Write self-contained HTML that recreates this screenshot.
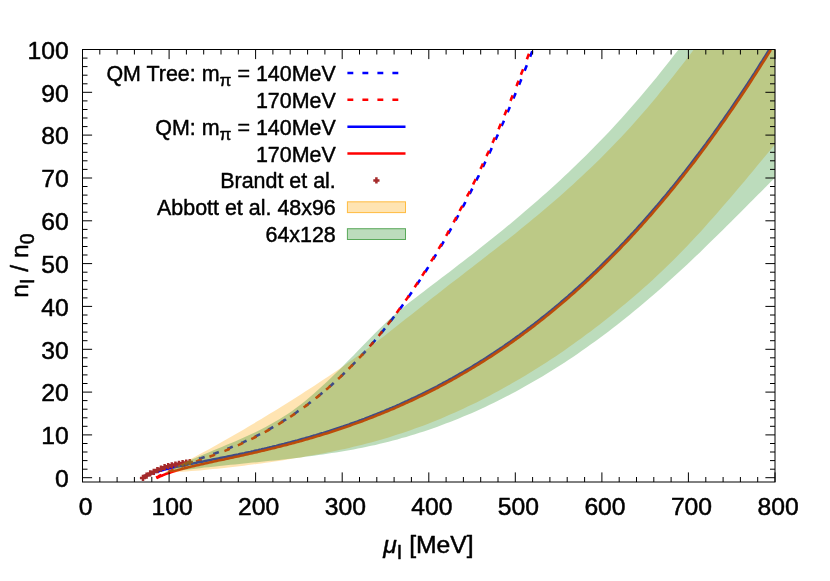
<!DOCTYPE html>
<html><head><meta charset="utf-8"><title>plot</title>
<style>
html,body{margin:0;padding:0;background:#fff;}
body{width:830px;height:581px;overflow:hidden;}
svg{display:block;will-change:transform;font-family:"Liberation Sans",sans-serif;}
</style></head><body>
<svg width="830" height="581" viewBox="0 0 830 581">
<rect width="830" height="581" fill="#fff"/>
<defs><clipPath id="c"><rect x="82.5" y="49.5" width="692.5" height="432.5"/></clipPath></defs>
<g clip-path="url(#c)" fill="none" stroke-width="2.6">
<path d="M143.1,477.7 L143.5,477.5 L144,477.3 L144.4,477 L144.9,476.8 L145.3,476.6 L145.7,476.4 L146.2,476.2 L146.6,475.9 L147.1,475.7 L147.5,475.5 L147.9,475.3 L148.4,475.1 L148.8,475 L149.3,474.8 L149.7,474.6 L150.1,474.4 L150.6,474.2 L151,474 L151.5,473.8 L151.9,473.7 L152.3,473.5 L152.8,473.3 L153.2,473.1 L153.7,473 L154.1,472.8 L154.5,472.6 L155,472.5 L155.4,472.3 L155.9,472.2 L156.3,472 L156.7,471.8 L157.2,471.7 L157.6,471.5 L158.1,471.4 L158.5,471.2 L158.9,471.1 L159.4,470.9 L159.8,470.8 L160.3,470.6 L160.7,470.5 L161.1,470.3 L161.6,470.2 L162,470 L162.5,469.9 L162.9,469.8 L163.3,469.6 L163.8,469.5 L164.2,469.3 L164.7,469.2 L165.1,469 L165.5,468.9 L166,468.8 L166.4,468.6 L166.9,468.5 L167.3,468.4 L167.7,468.2 L168.2,468.1 L168.6,468 L169.1,467.8 L170.6,467.4 L172.1,466.9 L173.6,466.4 L175.1,466 L176.7,465.5 L178.2,465.1 L179.7,464.6 L181.2,464.2 L182.7,463.7 L184.2,463.3 L185.8,462.8 L187.3,462.4 L188.8,461.9 L190.3,461.5 L191.8,461 L193.4,460.5 L194.9,460.1 L196.4,459.6 L197.9,459.1 L199.4,458.6 L201,458.2 L202.5,457.7 L204,457.2 L205.5,456.7 L207,456.2 L208.5,455.7 L210.1,455.1 L211.6,454.6 L213.1,454.1 L214.6,453.6 L216.1,453 L217.7,452.5 L219.2,451.9 L220.7,451.4 L222.2,450.8 L223.7,450.2 L225.3,449.6 L226.8,449.1 L228.3,448.5 L229.8,447.9 L231.3,447.2 L232.8,446.6 L234.4,446 L235.9,445.4 L237.4,444.7 L238.9,444.1 L240.4,443.4 L242,442.7 L243.5,442.1 L245,441.4 L246.5,440.7 L248,440 L249.6,439.3 L251.1,438.6 L252.6,437.8 L254.1,437.1 L255.6,436.4 L257.1,435.6 L258.7,434.8 L260.2,434.1 L261.7,433.3 L263.2,432.5 L264.7,431.7 L266.3,430.8 L267.8,430 L269.3,429.2 L270.8,428.3 L272.3,427.5 L273.8,426.6 L275.4,425.7 L276.9,424.8 L278.4,423.9 L279.9,423 L281.4,422.1 L283,421.2 L284.5,420.2 L286,419.3 L287.5,418.3 L289,417.3 L290.6,416.3 L292.1,415.3 L293.6,414.3 L295.1,413.3 L296.6,412.3 L298.1,411.2 L299.7,410.2 L301.2,409.1 L302.7,408 L304.2,406.9 L305.7,405.8 L307.3,404.7 L308.8,403.5 L310.3,402.4 L311.8,401.2 L313.3,400 L314.9,398.9 L316.4,397.7 L317.9,396.4 L319.4,395.2 L320.9,394 L322.4,392.7 L324,391.5 L325.5,390.2 L327,388.9 L328.5,387.6 L330,386.3 L331.6,384.9 L333.1,383.6 L334.6,382.2 L336.1,380.8 L337.6,379.4 L339.2,378 L340.7,376.6 L342.2,375.2 L343.7,373.7 L345.2,372.3 L346.7,370.8 L348.3,369.3 L349.8,367.8 L351.3,366.2 L352.8,364.7 L354.3,363.1 L355.9,361.6 L357.4,360 L358.9,358.4 L360.4,356.8 L361.9,355.1 L363.4,353.5 L365,351.8 L366.5,350.1 L368,348.4 L369.5,346.7 L371,345 L372.6,343.2 L374.1,341.5 L375.6,339.7 L377.1,337.9 L378.6,336.1 L380.2,334.3 L381.7,332.4 L383.2,330.6 L384.7,328.7 L386.2,326.8 L387.7,324.9 L389.3,322.9 L390.8,321 L392.3,319 L393.8,317 L395.3,315 L396.9,313 L398.4,311 L399.9,308.9 L401.4,306.9 L402.9,304.8 L404.5,302.7 L406,300.5 L407.5,298.4 L409,296.2 L410.5,294 L412,291.8 L413.6,289.6 L415.1,287.4 L416.6,285.1 L418.1,282.8 L419.6,280.6 L421.2,278.2 L422.7,275.9 L424.2,273.6 L425.7,271.2 L427.2,268.8 L428.8,266.4 L430.3,263.9 L431.8,261.5 L433.3,259 L434.8,256.5 L436.3,254 L437.9,251.5 L439.4,248.9 L440.9,246.4 L442.4,243.8 L443.9,241.2 L445.5,238.5 L447,235.9 L448.5,233.2 L450,230.5 L451.5,227.8 L453,225.1 L454.6,222.3 L456.1,219.5 L457.6,216.7 L459.1,213.9 L460.6,211.1 L462.2,208.2 L463.7,205.3 L465.2,202.4 L466.7,199.5 L468.2,196.6 L469.8,193.6 L471.3,190.6 L472.8,187.6 L474.3,184.5 L475.8,181.5 L477.3,178.4 L478.9,175.3 L480.4,172.2 L481.9,169 L483.4,165.9 L484.9,162.7 L486.5,159.4 L488,156.2 L489.5,152.9 L491,149.7 L492.5,146.3 L494.1,143 L495.6,139.7 L497.1,136.3 L498.6,132.9 L500.1,129.4 L501.6,126 L503.2,122.5 L504.7,119 L506.2,115.5 L507.7,112 L509.2,108.4 L510.8,104.8 L512.3,101.2 L513.8,97.5 L515.3,93.9 L516.8,90.2 L518.3,86.5 L519.9,82.7 L521.4,79 L522.9,75.2 L524.4,71.4 L525.9,67.5 L527.5,63.6 L529,59.8 L530.5,55.8 L532,51.9 L532.9,49.5" stroke="#0000ff" stroke-dasharray="5.9 9.1" stroke-dashoffset="0.7"/>
<path d="M156.1,477.7 L157.1,477.1 L158.1,476.6 L159.2,476 L160.2,475.5 L161.3,475 M156.1,477.7 L157.1,477.1 L158.1,476.6 L159.2,476 L160.2,475.5 L161.3,475 M168.2,471.8 L169.3,471.4 L170.4,470.9 L171.5,470.5 L172.6,470 L173.7,469.6 M181.3,466.8 L182.4,466.4 L183.5,466 L184.6,465.6 L185.7,465.2 L186.8,464.8 M196.1,461.5 L197.2,461.1 L198.3,460.7 L199.4,460.3 L200.6,459.9 L201.7,459.5 M209.5,456.7 L210.6,456.3 L211.7,455.9 L212.8,455.5 L213.9,455.1 L215,454.6 M224.4,451 L225.5,450.6 L226.6,450.1 L227.7,449.7 L228.8,449.2 L229.9,448.8 M237.8,445.3 L238.9,444.9 L240,444.4 L241.1,443.9 L242.1,443.4 L243.2,442.9 M251.3,439.1 L252.3,438.6 L253.4,438.1 L254.5,437.5 L255.5,437 L256.6,436.5 M264.7,432.2 L265.8,431.6 L266.8,431 L267.8,430.5 L268.9,429.9 L269.9,429.3 M278.2,424.5 L279.2,423.9 L280.2,423.2 L281.2,422.6 L282.2,422 L283.2,421.4 M290.2,416.9 L291.2,416.2 L292.1,415.6 L293.1,414.9 L294.1,414.3 L295.1,413.6 M303.7,407.5 L304.6,406.8 L305.6,406.1 L306.5,405.4 L307.5,404.7 L308.4,404 M315.7,398.4 L316.6,397.6 L317.5,396.9 L318.4,396.2 L319.3,395.4 L320.2,394.7 M326.1,389.7 L327,388.9 L327.9,388.2 L328.8,387.4 L329.7,386.6 L330.6,385.8 M338.1,379 L339,378.2 L339.9,377.4 L340.7,376.6 L341.6,375.7 L342.4,374.9 M348.6,368.9 L349.5,368 L350.3,367.2 L351.1,366.4 L352,365.5 L352.8,364.7 M359.1,358 L359.9,357.2 L360.8,356.3 L361.6,355.4 L362.4,354.6 L363.1,353.7 M369.6,346.4 L370.4,345.6 L371.2,344.7 L372,343.8 L372.7,342.9 L373.5,342 M378.6,335.9 L379.4,335 L380.1,334.1 L380.9,333.1 L381.6,332.2 L382.4,331.3 M387.6,324.7 L388.4,323.8 L389.1,322.8 L389.8,321.9 L390.5,321 L391.3,320 M396.6,312.9 L397.3,311.9 L398,311 L398.7,310 L399.4,309.1 L400.1,308.1 M405.6,300.4 L406.3,299.4 L407,298.5 L407.7,297.5 L408.3,296.5 L409,295.6 M414.6,287.3 L415.3,286.3 L415.9,285.3 L416.6,284.3 L417.2,283.3 L417.9,282.4 M422.1,275.8 L422.8,274.8 L423.4,273.8 L424,272.8 L424.7,271.8 L425.3,270.8 M431.1,261.4 L431.7,260.4 L432.3,259.4 L433,258.4 L433.6,257.4 L434.2,256.4 M438.6,248.9 L439.2,247.9 L439.8,246.8 L440.4,245.8 L441,244.8 L441.6,243.8 M446.1,235.8 L446.7,234.8 L447.3,233.8 L447.8,232.7 L448.4,231.7 L449,230.7 M453.6,222.3 L454.2,221.2 L454.7,220.2 L455.3,219.1 L455.8,218.1 L456.4,217.1 M459.6,211 L460.1,210 L460.7,208.9 L461.2,207.9 L461.8,206.8 L462.3,205.8 M467.1,196.5 L467.6,195.4 L468.1,194.4 L468.7,193.3 L469.2,192.3 L469.7,191.2 M473.1,184.5 L473.6,183.4 L474.1,182.3 L474.6,181.3 L475.1,180.2 L475.6,179.1 M480.5,168.9 L481,167.8 L481.5,166.8 L482,165.7 L482.5,164.6 L483,163.6 M486.5,156.1 L487,155 L487.5,153.9 L488,152.8 L488.5,151.8 L489,150.7 M492.5,142.9 L493,141.8 L493.5,140.7 L493.9,139.6 L494.4,138.5 L494.9,137.5 M498.5,129.3 L499,128.2 L499.4,127.1 L499.9,126 L500.4,124.9 L500.8,123.8 M504.5,115.3 L504.9,114.2 L505.4,113.1 L505.8,112 L506.3,110.9 L506.7,109.8 M510.4,100.9 L510.9,99.8 L511.3,98.7 L511.8,97.6 L512.2,96.5 L512.7,95.4 M516.4,86.1 L516.9,85 L517.3,83.9 L517.7,82.8 L518.2,81.8 L518.6,80.7 M520.9,74.8 L521.3,73.7 L521.8,72.6 L522.2,71.5 L522.6,70.4 L523.1,69.3 M526.9,59.3 L527.3,58.2 L527.7,57.1 L528.1,56 L528.6,54.9 L529,53.8" stroke="#ff0000"/>
<path d="M143.1,477.7 L143.5,477.5 L144,477.3 L144.4,477.1 L144.9,476.9 L145.3,476.7 L145.7,476.5 L146.2,476.3 L146.6,476.1 L147.1,475.9 L147.5,475.7 L147.9,475.5 L148.4,475.3 L148.8,475.2 L149.3,475 L149.7,474.8 L150.1,474.7 L150.6,474.5 L151,474.3 L151.5,474.2 L151.9,474 L152.3,473.9 L152.8,473.7 L153.2,473.6 L153.7,473.4 L154.1,473.3 L154.5,473.1 L155,473 L155.4,472.8 L155.9,472.7 L156.3,472.6 L156.7,472.4 L157.2,472.3 L157.6,472.2 L158.1,472 L158.5,471.9 L158.9,471.8 L159.4,471.6 L159.8,471.5 L160.3,471.4 L160.7,471.3 L161.1,471.2 L161.6,471 L162,470.9 L162.5,470.8 L162.9,470.7 L163.3,470.6 L163.8,470.5 L164.2,470.3 L164.7,470.2 L165.1,470.1 L165.5,470 L166,469.9 L166.4,469.8 L166.9,469.7 L167.3,469.6 L167.7,469.5 L168.2,469.4 L168.6,469.3 L169.1,469.1 L170.6,468.8 L172.1,468.4 L173.6,468.1 L175.1,467.8 L176.7,467.4 L178.2,467.1 L179.7,466.8 L181.2,466.5 L182.7,466.2 L184.2,465.9 L185.8,465.6 L187.3,465.3 L188.8,464.9 L190.3,464.6 L191.8,464.4 L193.4,464.1 L194.9,463.8 L196.4,463.5 L197.9,463.2 L199.4,462.9 L201,462.6 L202.5,462.3 L204,462 L205.5,461.7 L207,461.4 L208.5,461.1 L210.1,460.8 L211.6,460.5 L213.1,460.2 L214.6,459.9 L216.1,459.6 L217.7,459.3 L219.2,459 L220.7,458.7 L222.2,458.4 L223.7,458.1 L225.3,457.8 L226.8,457.5 L228.3,457.2 L229.8,456.9 L231.3,456.6 L232.8,456.3 L234.4,456 L235.9,455.7 L237.4,455.4 L238.9,455.1 L240.4,454.7 L242,454.4 L243.5,454.1 L245,453.8 L246.5,453.4 L248,453.1 L249.6,452.8 L251.1,452.5 L252.6,452.1 L254.1,451.8 L255.6,451.4 L257.1,451.1 L258.7,450.8 L260.2,450.4 L261.7,450.1 L263.2,449.7 L264.7,449.4 L266.3,449 L267.8,448.7 L269.3,448.3 L270.8,447.9 L272.3,447.6 L273.8,447.2 L275.4,446.8 L276.9,446.5 L278.4,446.1 L279.9,445.7 L281.4,445.3 L283,444.9 L284.5,444.6 L286,444.2 L287.5,443.8 L289,443.4 L290.6,443 L292.1,442.6 L293.6,442.2 L295.1,441.8 L296.6,441.4 L298.1,441 L299.7,440.5 L301.2,440.1 L302.7,439.7 L304.2,439.3 L305.7,438.9 L307.3,438.4 L308.8,438 L310.3,437.6 L311.8,437.1 L313.3,436.7 L314.9,436.2 L316.4,435.8 L317.9,435.3 L319.4,434.9 L320.9,434.4 L322.4,433.9 L324,433.5 L325.5,433 L327,432.5 L328.5,432 L330,431.6 L331.6,431.1 L333.1,430.6 L334.6,430.1 L336.1,429.6 L337.6,429.1 L339.2,428.6 L340.7,428.1 L342.2,427.6 L343.7,427.1 L345.2,426.5 L346.7,426 L348.3,425.5 L349.8,425 L351.3,424.4 L352.8,423.9 L354.3,423.4 L355.9,422.8 L357.4,422.3 L358.9,421.7 L360.4,421.1 L361.9,420.6 L363.4,420 L365,419.5 L366.5,418.9 L368,418.3 L369.5,417.7 L371,417.1 L372.6,416.5 L374.1,415.9 L375.6,415.3 L377.1,414.7 L378.6,414.1 L380.2,413.5 L381.7,412.9 L383.2,412.3 L384.7,411.7 L386.2,411 L387.7,410.4 L389.3,409.8 L390.8,409.1 L392.3,408.5 L393.8,407.8 L395.3,407.2 L396.9,406.5 L398.4,405.8 L399.9,405.2 L401.4,404.5 L402.9,403.8 L404.5,403.1 L406,402.4 L407.5,401.8 L409,401.1 L410.5,400.4 L412,399.6 L413.6,398.9 L415.1,398.2 L416.6,397.5 L418.1,396.8 L419.6,396 L421.2,395.3 L422.7,394.6 L424.2,393.8 L425.7,393.1 L427.2,392.3 L428.8,391.5 L430.3,390.8 L431.8,390 L433.3,389.2 L434.8,388.4 L436.3,387.7 L437.9,386.9 L439.4,386.1 L440.9,385.3 L442.4,384.5 L443.9,383.6 L445.5,382.8 L447,382 L448.5,381.2 L450,380.3 L451.5,379.5 L453,378.7 L454.6,377.8 L456.1,376.9 L457.6,376.1 L459.1,375.2 L460.6,374.3 L462.2,373.5 L463.7,372.6 L465.2,371.7 L466.7,370.8 L468.2,369.9 L469.8,369 L471.3,368.1 L472.8,367.2 L474.3,366.2 L475.8,365.3 L477.3,364.4 L478.9,363.4 L480.4,362.5 L481.9,361.5 L483.4,360.6 L484.9,359.6 L486.5,358.7 L488,357.7 L489.5,356.7 L491,355.7 L492.5,354.7 L494.1,353.7 L495.6,352.7 L497.1,351.7 L498.6,350.7 L500.1,349.7 L501.6,348.6 L503.2,347.6 L504.7,346.6 L506.2,345.5 L507.7,344.5 L509.2,343.4 L510.8,342.3 L512.3,341.3 L513.8,340.2 L515.3,339.1 L516.8,338 L518.3,336.9 L519.9,335.8 L521.4,334.7 L522.9,333.6 L524.4,332.4 L525.9,331.3 L527.5,330.2 L529,329 L530.5,327.9 L532,326.7 L533.5,325.6 L535.1,324.4 L536.6,323.2 L538.1,322 L539.6,320.8 L541.1,319.7 L542.6,318.4 L544.2,317.2 L545.7,316 L547.2,314.8 L548.7,313.6 L550.2,312.3 L551.8,311.1 L553.3,309.8 L554.8,308.6 L556.3,307.3 L557.8,306 L559.4,304.8 L560.9,303.5 L562.4,302.2 L563.9,300.9 L565.4,299.6 L566.9,298.3 L568.5,297 L570,295.6 L571.5,294.3 L573,293 L574.5,291.6 L576.1,290.2 L577.6,288.9 L579.1,287.5 L580.6,286.1 L582.1,284.8 L583.7,283.4 L585.2,282 L586.7,280.6 L588.2,279.1 L589.7,277.7 L591.2,276.3 L592.8,274.9 L594.3,273.4 L595.8,272 L597.3,270.5 L598.8,269 L600.4,267.6 L601.9,266.1 L603.4,264.6 L604.9,263.1 L606.4,261.6 L607.9,260.1 L609.5,258.6 L611,257 L612.5,255.5 L614,253.9 L615.5,252.4 L617.1,250.8 L618.6,249.3 L620.1,247.7 L621.6,246.1 L623.1,244.5 L624.7,242.9 L626.2,241.3 L627.7,239.7 L629.2,238.1 L630.7,236.5 L632.2,234.8 L633.8,233.2 L635.3,231.5 L636.8,229.9 L638.3,228.2 L639.8,226.5 L641.4,224.8 L642.9,223.1 L644.4,221.4 L645.9,219.7 L647.4,218 L649,216.3 L650.5,214.5 L652,212.8 L653.5,211 L655,209.3 L656.5,207.5 L658.1,205.7 L659.6,203.9 L661.1,202.1 L662.6,200.3 L664.1,198.5 L665.7,196.7 L667.2,194.9 L668.7,193 L670.2,191.2 L671.7,189.3 L673.3,187.5 L674.8,185.6 L676.3,183.7 L677.8,181.8 L679.3,179.9 L680.8,178 L682.4,176.1 L683.9,174.2 L685.4,172.3 L686.9,170.3 L688.4,168.4 L690,166.4 L691.5,164.5 L693,162.5 L694.5,160.5 L696,158.5 L697.5,156.5 L699.1,154.5 L700.6,152.5 L702.1,150.4 L703.6,148.4 L705.1,146.3 L706.7,144.3 L708.2,142.2 L709.7,140.1 L711.2,138.1 L712.7,136 L714.3,133.9 L715.8,131.7 L717.3,129.6 L718.8,127.5 L720.3,125.3 L721.8,123.2 L723.4,121 L724.9,118.9 L726.4,116.7 L727.9,114.5 L729.4,112.3 L731,110.1 L732.5,107.9 L734,105.7 L735.5,103.4 L737,101.2 L738.6,98.9 L740.1,96.7 L741.6,94.4 L743.1,92.1 L744.6,89.8 L746.1,87.5 L747.7,85.2 L749.2,82.9 L750.7,80.5 L752.2,78.2 L753.7,75.8 L755.3,73.5 L756.8,71.1 L758.3,68.7 L759.8,66.3 L761.3,63.9 L762.9,61.5 L764.4,59.1 L765.9,56.7 L767.4,54.2 L768.9,51.8 L770.3,49.5" stroke="#0000ff" transform="translate(-0.6,-0.6)"/>
<path d="M156.1,477.7 L156.5,477.5 L157,477.3 L157.4,477.1 L157.8,476.8 L158.3,476.6 L158.7,476.4 L159.2,476.2 L159.6,476 L160,475.8 L160.5,475.6 L160.9,475.4 L161.4,475.3 L161.8,475.1 L162.2,474.9 L162.7,474.7 L163.1,474.5 L163.6,474.4 L164,474.2 L164.4,474 L164.9,473.8 L165.3,473.7 L165.8,473.5 L166.2,473.3 L166.6,473.2 L167.1,473 L167.5,472.9 L168,472.7 L168.4,472.6 L168.8,472.4 L169.3,472.3 L169.7,472.1 L170.2,472 L170.6,471.8 L171,471.7 L171.5,471.5 L171.9,471.4 L172.4,471.2 L172.8,471.1 L173.2,471 L173.7,470.8 L174.1,470.7 L174.6,470.6 L175,470.4 L175.4,470.3 L175.9,470.2 L176.3,470 L176.8,469.9 L177.2,469.8 L177.6,469.7 L178.1,469.5 L178.5,469.4 L179,469.3 L179.4,469.2 L179.8,469 L180.3,468.9 L180.7,468.8 L181.2,468.7 L181.6,468.6 L182,468.4 L183.5,468.1 L185,467.7 L186.5,467.3 L188,466.9 L189.5,466.6 L191,466.2 L192.4,465.8 L193.9,465.5 L195.4,465.1 L196.9,464.8 L198.4,464.5 L199.9,464.1 L201.4,463.8 L202.9,463.5 L204.3,463.1 L205.8,462.8 L207.3,462.5 L208.8,462.2 L210.3,461.8 L211.8,461.5 L213.3,461.2 L214.7,460.9 L216.2,460.6 L217.7,460.2 L219.2,459.9 L220.7,459.6 L222.2,459.3 L223.7,459 L225.1,458.6 L226.6,458.3 L228.1,458 L229.6,457.7 L231.1,457.4 L232.6,457.1 L234.1,456.7 L235.5,456.4 L237,456.1 L238.5,455.8 L240,455.4 L241.5,455.1 L243,454.8 L244.5,454.4 L245.9,454.1 L247.4,453.8 L248.9,453.4 L250.4,453.1 L251.9,452.8 L253.4,452.4 L254.9,452.1 L256.4,451.8 L257.8,451.4 L259.3,451.1 L260.8,450.7 L262.3,450.4 L263.8,450 L265.3,449.7 L266.8,449.3 L268.2,448.9 L269.7,448.6 L271.2,448.2 L272.7,447.9 L274.2,447.5 L275.7,447.1 L277.2,446.7 L278.6,446.4 L280.1,446 L281.6,445.6 L283.1,445.2 L284.6,444.9 L286.1,444.5 L287.6,444.1 L289,443.7 L290.5,443.3 L292,442.9 L293.5,442.5 L295,442.1 L296.5,441.7 L298,441.3 L299.4,440.9 L300.9,440.5 L302.4,440 L303.9,439.6 L305.4,439.2 L306.9,438.8 L308.4,438.3 L309.9,437.9 L311.3,437.5 L312.8,437 L314.3,436.6 L315.8,436.2 L317.3,435.7 L318.8,435.3 L320.3,434.8 L321.7,434.4 L323.2,433.9 L324.7,433.4 L326.2,433 L327.7,432.5 L329.2,432 L330.7,431.6 L332.1,431.1 L333.6,430.6 L335.1,430.1 L336.6,429.6 L338.1,429.1 L339.6,428.6 L341.1,428.1 L342.5,427.6 L344,427.1 L345.5,426.6 L347,426.1 L348.5,425.6 L350,425.1 L351.5,424.5 L352.9,424 L354.4,423.5 L355.9,422.9 L357.4,422.4 L358.9,421.9 L360.4,421.3 L361.9,420.8 L363.4,420.2 L364.8,419.6 L366.3,419.1 L367.8,418.5 L369.3,417.9 L370.8,417.4 L372.3,416.8 L373.8,416.2 L375.2,415.6 L376.7,415 L378.2,414.4 L379.7,413.8 L381.2,413.2 L382.7,412.6 L384.2,412 L385.6,411.4 L387.1,410.8 L388.6,410.2 L390.1,409.5 L391.6,408.9 L393.1,408.3 L394.6,407.6 L396,407 L397.5,406.3 L399,405.7 L400.5,405 L402,404.4 L403.5,403.7 L405,403 L406.4,402.3 L407.9,401.7 L409.4,401 L410.9,400.3 L412.4,399.6 L413.9,398.9 L415.4,398.2 L416.9,397.5 L418.3,396.8 L419.8,396 L421.3,395.3 L422.8,394.6 L424.3,393.9 L425.8,393.1 L427.3,392.4 L428.7,391.6 L430.2,390.9 L431.7,390.1 L433.2,389.4 L434.7,388.6 L436.2,387.8 L437.7,387.1 L439.1,386.3 L440.6,385.5 L442.1,384.7 L443.6,383.9 L445.1,383.1 L446.6,382.3 L448.1,381.5 L449.5,380.7 L451,379.9 L452.5,379 L454,378.2 L455.5,377.4 L457,376.5 L458.5,375.7 L459.9,374.8 L461.4,374 L462.9,373.1 L464.4,372.2 L465.9,371.4 L467.4,370.5 L468.9,369.6 L470.3,368.7 L471.8,367.8 L473.3,366.9 L474.8,366 L476.3,365.1 L477.8,364.2 L479.3,363.3 L480.8,362.3 L482.2,361.4 L483.7,360.5 L485.2,359.5 L486.7,358.6 L488.2,357.6 L489.7,356.7 L491.2,355.7 L492.6,354.7 L494.1,353.7 L495.6,352.8 L497.1,351.8 L498.6,350.8 L500.1,349.8 L501.6,348.8 L503,347.7 L504.5,346.7 L506,345.7 L507.5,344.7 L509,343.6 L510.5,342.6 L512,341.5 L513.4,340.5 L514.9,339.4 L516.4,338.4 L517.9,337.3 L519.4,336.2 L520.9,335.1 L522.4,334 L523.8,332.9 L525.3,331.8 L526.8,330.7 L528.3,329.6 L529.8,328.5 L531.3,327.3 L532.8,326.2 L534.3,325.1 L535.7,323.9 L537.2,322.8 L538.7,321.6 L540.2,320.4 L541.7,319.3 L543.2,318.1 L544.7,316.9 L546.1,315.7 L547.6,314.5 L549.1,313.3 L550.6,312.1 L552.1,310.9 L553.6,309.7 L555.1,308.4 L556.5,307.2 L558,305.9 L559.5,304.7 L561,303.4 L562.5,302.2 L564,300.9 L565.5,299.6 L566.9,298.3 L568.4,297 L569.9,295.7 L571.4,294.4 L572.9,293.1 L574.4,291.8 L575.9,290.5 L577.3,289.1 L578.8,287.8 L580.3,286.5 L581.8,285.1 L583.3,283.7 L584.8,282.4 L586.3,281 L587.8,279.6 L589.2,278.2 L590.7,276.8 L592.2,275.4 L593.7,274 L595.2,272.6 L596.7,271.2 L598.2,269.7 L599.6,268.3 L601.1,266.9 L602.6,265.4 L604.1,263.9 L605.6,262.5 L607.1,261 L608.6,259.5 L610,258 L611.5,256.5 L613,255 L614.5,253.5 L616,252 L617.5,250.5 L619,248.9 L620.4,247.4 L621.9,245.8 L623.4,244.3 L624.9,242.7 L626.4,241.1 L627.9,239.6 L629.4,238 L630.8,236.4 L632.3,234.8 L633.8,233.2 L635.3,231.5 L636.8,229.9 L638.3,228.3 L639.8,226.6 L641.3,225 L642.7,223.3 L644.2,221.7 L645.7,220 L647.2,218.3 L648.7,216.6 L650.2,214.9 L651.7,213.2 L653.1,211.5 L654.6,209.8 L656.1,208.1 L657.6,206.3 L659.1,204.6 L660.6,202.8 L662.1,201.1 L663.5,199.3 L665,197.5 L666.5,195.7 L668,193.9 L669.5,192.1 L671,190.3 L672.5,188.5 L673.9,186.7 L675.4,184.8 L676.9,183 L678.4,181.1 L679.9,179.3 L681.4,177.4 L682.9,175.5 L684.3,173.6 L685.8,171.8 L687.3,169.9 L688.8,167.9 L690.3,166 L691.8,164.1 L693.3,162.2 L694.8,160.2 L696.2,158.3 L697.7,156.3 L699.2,154.3 L700.7,152.3 L702.2,150.4 L703.7,148.4 L705.2,146.4 L706.6,144.3 L708.1,142.3 L709.6,140.3 L711.1,138.2 L712.6,136.2 L714.1,134.1 L715.6,132.1 L717,130 L718.5,127.9 L720,125.8 L721.5,123.7 L723,121.6 L724.5,119.5 L726,117.4 L727.4,115.2 L728.9,113.1 L730.4,110.9 L731.9,108.8 L733.4,106.6 L734.9,104.4 L736.4,102.2 L737.8,100 L739.3,97.8 L740.8,95.6 L742.3,93.3 L743.8,91.1 L745.3,88.9 L746.8,86.6 L748.3,84.3 L749.7,82.1 L751.2,79.8 L752.7,77.5 L754.2,75.2 L755.7,72.9 L757.2,70.5 L758.7,68.2 L760.1,65.9 L761.6,63.5 L763.1,61.1 L764.6,58.8 L766.1,56.4 L767.6,54 L769.1,51.6 L770.4,49.5" stroke="#ff0000" transform="translate(0.4,0.4)"/>
<path d="M139.9,477.9 h6.2 M143,474.8 v6.2 M143.5,475.6 h6.2 M146.6,472.5 v6.2 M147.1,473.4 h6.2 M150.2,470.3 v6.2 M150.7,471.8 h6.2 M153.8,468.7 v6.2 M154.3,470.1 h6.2 M157.4,467 v6.2 M157.9,468.7 h6.2 M161,465.6 v6.2 M161.5,467.2 h6.2 M164.6,464.1 v6.2 M165.1,466.2 h6.2 M168.2,463.1 v6.2 M168.7,465.3 h6.2 M171.8,462.2 v6.2 M172.3,464.5 h6.2 M175.4,461.4 v6.2 M175.9,463.8 h6.2 M179,460.7 v6.2 M179.5,463.2 h6.2 M182.6,460.1 v6.2 M183.1,462.5 h6.2 M186.2,459.4 v6.2 M186.7,462 h6.2 M189.8,458.9 v6.2" stroke="#a52a2a" stroke-width="2.5"/>
<path d="M164.7,472.4 L169.1,470.2 L173.5,468 L177.9,465.7 L182.3,463.5 L186.7,461.2 L191.1,458.8 L195.5,456.5 L199.9,454.1 L204.2,451.8 L208.6,449.4 L213,446.9 L217.4,444.5 L221.8,442 L226.2,439.5 L230.6,437 L235,434.5 L239.4,431.9 L243.8,429.4 L248.2,426.8 L252.5,424.2 L256.9,421.6 L261.3,418.9 L265.7,416.3 L270.1,413.6 L274.5,410.9 L278.9,408.2 L283.3,405.4 L287.7,402.7 L292.1,399.9 L296.4,397.2 L300.8,394.4 L305.2,391.6 L309.6,388.7 L314,385.9 L318.4,383 L322.8,380.1 L327.2,377.2 L331.6,374.2 L336,371.3 L340.4,368.2 L344.7,365.2 L349.1,362.1 L353.5,359 L357.9,355.8 L362.3,352.6 L366.7,349.3 L371.1,346 L375.5,342.7 L379.9,339.3 L384.3,335.9 L388.6,332.5 L393,329.1 L397.4,325.6 L401.8,322.1 L406.2,318.6 L410.6,315.2 L415,311.7 L419.4,308.2 L423.8,304.7 L428.2,301.2 L432.5,297.8 L436.9,294.4 L441.3,290.9 L445.7,287.5 L450.1,284.1 L454.5,280.8 L458.9,277.4 L463.3,274 L467.7,270.6 L472.1,267.2 L476.5,263.8 L480.8,260.4 L485.2,257 L489.6,253.6 L494,250.2 L498.4,246.8 L502.8,243.3 L507.2,239.9 L511.6,236.4 L516,232.9 L520.4,229.3 L524.7,225.8 L529.1,222.2 L533.5,218.6 L537.9,214.9 L542.3,211.3 L546.7,207.5 L551.1,203.8 L555.5,200 L559.9,196.2 L564.3,192.3 L568.7,188.3 L573,184.4 L577.4,180.3 L581.8,176.3 L586.2,172.1 L590.6,167.9 L595,163.7 L599.4,159.4 L603.8,155 L608.2,150.6 L612.6,146.1 L616.9,141.5 L621.3,136.9 L625.7,132.2 L630.1,127.4 L634.5,122.5 L638.9,117.6 L643.3,112.5 L647.7,107.4 L652.1,102.2 L656.5,97 L660.8,91.6 L665.2,86.2 L669.6,80.7 L674,75.2 L678.4,69.6 L682.8,63.9 L687.2,58.2 L691.6,52.4 L696,46.6 L700.4,40.8 L704.8,34.9 L709.1,28.9 L713.5,23 L717.9,17 L722.3,10.9 L726.7,4.9 L731.1,-1.1 L735.5,-7.2 L739.9,-13.3 L744.3,-19.4 L748.7,-25.5 L753,-31.6 L757.4,-37.7 L761.8,-43.8 L766.2,-49.8 L770.6,-55.9 L775,-61.9 L775,144.5 L770.6,149.8 L766.2,155.1 L761.8,160.3 L757.4,165.6 L753,170.9 L748.7,176.1 L744.3,181.4 L739.9,186.6 L735.5,191.8 L731.1,196.9 L726.7,202.1 L722.3,207.1 L717.9,212.2 L713.5,217.2 L709.1,222.1 L704.8,227 L700.4,231.9 L696,236.6 L691.6,241.3 L687.2,246 L682.8,250.5 L678.4,255 L674,259.4 L669.6,263.7 L665.2,268 L660.8,272.2 L656.5,276.3 L652.1,280.4 L647.7,284.4 L643.3,288.3 L638.9,292.2 L634.5,296 L630.1,299.8 L625.7,303.5 L621.3,307.1 L616.9,310.7 L612.6,314.3 L608.2,317.8 L603.8,321.3 L599.4,324.7 L595,328 L590.6,331.4 L586.2,334.6 L581.8,337.9 L577.4,341.1 L573,344.2 L568.7,347.3 L564.3,350.4 L559.9,353.4 L555.5,356.4 L551.1,359.3 L546.7,362.2 L542.3,365 L537.9,367.8 L533.5,370.5 L529.1,373.2 L524.7,375.9 L520.4,378.5 L516,381.1 L511.6,383.6 L507.2,386.1 L502.8,388.6 L498.4,391 L494,393.3 L489.6,395.7 L485.2,397.9 L480.8,400.2 L476.5,402.4 L472.1,404.5 L467.7,406.6 L463.3,408.7 L458.9,410.7 L454.5,412.7 L450.1,414.6 L445.7,416.5 L441.3,418.4 L436.9,420.2 L432.5,422 L428.2,423.7 L423.8,425.4 L419.4,427 L415,428.6 L410.6,430.2 L406.2,431.7 L401.8,433.2 L397.4,434.6 L393,436 L388.6,437.4 L384.3,438.7 L379.9,440 L375.5,441.2 L371.1,442.4 L366.7,443.6 L362.3,444.7 L357.9,445.8 L353.5,446.8 L349.1,447.9 L344.7,448.9 L340.4,449.8 L336,450.8 L331.6,451.7 L327.2,452.5 L322.8,453.4 L318.4,454.2 L314,455 L309.6,455.8 L305.2,456.6 L300.8,457.4 L296.4,458.1 L292.1,458.8 L287.7,459.5 L283.3,460.2 L278.9,460.9 L274.5,461.5 L270.1,462.2 L265.7,462.8 L261.3,463.4 L256.9,464 L252.5,464.6 L248.2,465.1 L243.8,465.7 L239.4,466.2 L235,466.8 L230.6,467.3 L226.2,467.8 L221.8,468.2 L217.4,468.7 L213,469.1 L208.6,469.6 L204.2,470 L199.9,470.4 L195.5,470.7 L191.1,471.1 L186.7,471.4 L182.3,471.8 L177.9,472.1 L173.5,472.3 L169.1,472.6 L164.7,472.9Z" fill="#ffa500" fill-opacity="0.3" stroke="none"/>
<path d="M164.7,472.8 L169.1,470.4 L173.5,468.2 L177.9,466 L182.3,463.9 L186.7,461.8 L191.1,459.8 L195.5,457.9 L199.9,456 L204.2,454.2 L208.6,452.4 L213,450.5 L217.4,448.7 L221.8,446.9 L226.2,445.1 L230.6,443.3 L235,441.5 L239.4,439.6 L243.8,437.6 L248.2,435.6 L252.5,433.6 L256.9,431.5 L261.3,429.3 L265.7,427 L270.1,424.6 L274.5,422.1 L278.9,419.5 L283.3,416.7 L287.7,413.9 L292.1,410.9 L296.4,407.7 L300.8,404.4 L305.2,400.9 L309.6,397.3 L314,393.5 L318.4,389.6 L322.8,385.6 L327.2,381.5 L331.6,377.3 L336,373.1 L340.4,368.7 L344.7,364.3 L349.1,359.8 L353.5,355.4 L357.9,350.8 L362.3,346.3 L366.7,341.8 L371.1,337.3 L375.5,332.8 L379.9,328.5 L384.3,324.2 L388.6,320.1 L393,316.2 L397.4,312.4 L401.8,308.7 L406.2,305.1 L410.6,301.6 L415,298.2 L419.4,294.8 L423.8,291.5 L428.2,288.1 L432.5,284.8 L436.9,281.5 L441.3,278.1 L445.7,274.8 L450.1,271.4 L454.5,268 L458.9,264.6 L463.3,261.2 L467.7,257.8 L472.1,254.4 L476.5,251 L480.8,247.5 L485.2,244 L489.6,240.5 L494,237 L498.4,233.5 L502.8,229.9 L507.2,226.3 L511.6,222.7 L516,219 L520.4,215.3 L524.7,211.6 L529.1,207.8 L533.5,204 L537.9,200.2 L542.3,196.3 L546.7,192.4 L551.1,188.5 L555.5,184.5 L559.9,180.4 L564.3,176.3 L568.7,172.2 L573,168 L577.4,163.8 L581.8,159.5 L586.2,155.2 L590.6,150.8 L595,146.3 L599.4,141.8 L603.8,137.3 L608.2,132.7 L612.6,128 L616.9,123.2 L621.3,118.4 L625.7,113.5 L630.1,108.6 L634.5,103.6 L638.9,98.5 L643.3,93.3 L647.7,88.1 L652.1,82.8 L656.5,77.5 L660.8,72 L665.2,66.5 L669.6,61 L674,55.3 L678.4,49.7 L682.8,44 L687.2,38.2 L691.6,32.4 L696,26.5 L700.4,20.6 L704.8,14.7 L709.1,8.7 L713.5,2.7 L717.9,-3.4 L722.3,-9.4 L726.7,-15.5 L731.1,-21.6 L735.5,-27.8 L739.9,-33.9 L744.3,-40.1 L748.7,-46.2 L753,-52.4 L757.4,-58.6 L761.8,-64.8 L766.2,-70.9 L770.6,-77.1 L775,-83.3 L775,177.7 L770.6,182.1 L766.2,186.5 L761.8,190.9 L757.4,195.3 L753,199.7 L748.7,204.1 L744.3,208.5 L739.9,212.9 L735.5,217.3 L731.1,221.7 L726.7,226 L722.3,230.4 L717.9,234.7 L713.5,239.1 L709.1,243.3 L704.8,247.6 L700.4,251.9 L696,256.1 L691.6,260.3 L687.2,264.4 L682.8,268.5 L678.4,272.5 L674,276.6 L669.6,280.5 L665.2,284.5 L660.8,288.4 L656.5,292.2 L652.1,296 L647.7,299.8 L643.3,303.5 L638.9,307.2 L634.5,310.8 L630.1,314.4 L625.7,318 L621.3,321.5 L616.9,324.9 L612.6,328.3 L608.2,331.7 L603.8,335 L599.4,338.2 L595,341.5 L590.6,344.6 L586.2,347.8 L581.8,350.8 L577.4,353.9 L573,356.9 L568.7,359.8 L564.3,362.7 L559.9,365.5 L555.5,368.3 L551.1,371.1 L546.7,373.8 L542.3,376.4 L537.9,379.1 L533.5,381.6 L529.1,384.1 L524.7,386.6 L520.4,389.1 L516,391.4 L511.6,393.8 L507.2,396.1 L502.8,398.3 L498.4,400.5 L494,402.7 L489.6,404.8 L485.2,406.9 L480.8,408.9 L476.5,410.9 L472.1,412.9 L467.7,414.8 L463.3,416.6 L458.9,418.4 L454.5,420.2 L450.1,421.9 L445.7,423.6 L441.3,425.3 L436.9,426.9 L432.5,428.4 L428.2,429.9 L423.8,431.4 L419.4,432.8 L415,434.2 L410.6,435.6 L406.2,436.9 L401.8,438.1 L397.4,439.4 L393,440.5 L388.6,441.7 L384.3,442.8 L379.9,443.8 L375.5,444.9 L371.1,445.8 L366.7,446.8 L362.3,447.7 L357.9,448.6 L353.5,449.4 L349.1,450.2 L344.7,451 L340.4,451.7 L336,452.4 L331.6,453.1 L327.2,453.8 L322.8,454.5 L318.4,455.1 L314,455.7 L309.6,456.3 L305.2,456.8 L300.8,457.4 L296.4,457.9 L292.1,458.4 L287.7,458.9 L283.3,459.4 L278.9,459.9 L274.5,460.4 L270.1,460.8 L265.7,461.3 L261.3,461.7 L256.9,462.2 L252.5,462.6 L248.2,463.1 L243.8,463.5 L239.4,463.9 L235,464.4 L230.6,464.8 L226.2,465.3 L221.8,465.7 L217.4,466.2 L213,466.7 L208.6,467.2 L204.2,467.6 L199.9,468.2 L195.5,468.7 L191.1,469.2 L186.7,469.8 L182.3,470.3 L177.9,470.9 L173.5,471.5 L169.1,472.2 L164.7,472.8Z" fill="#228b22" fill-opacity="0.3" stroke="none"/>
</g>
<g fill="none" stroke-width="2.6">
<path d="M347.4,73 H405.5" stroke="#0000ff" stroke-dasharray="5.9 9.1"/>
<path d="M347.4,99.8 H405.5" stroke="#ff0000" stroke-dasharray="5.9 9.1"/>
<path d="M347.4,126.7 H405.5" stroke="#0000ff"/>
<path d="M347.4,153.5 H405.5" stroke="#ff0000"/>
<path d="M373.3,180.4 h6.2 M376.4,177.3 v6.2" stroke="#a52a2a" stroke-width="2.5"/>
</g>
<rect x="347.4" y="201.8" width="58.1" height="10.8" fill="#ffa500" fill-opacity="0.3" stroke="#ffa500" stroke-opacity="0.7" stroke-width="1"/>
<rect x="347.4" y="228.7" width="58.1" height="10.8" fill="#228b22" fill-opacity="0.3" stroke="#228b22" stroke-opacity="0.7" stroke-width="1"/>
<path d="M82.5,482 v-9.6 M82.5,49.5 v9.6 M99.8,482 v-5 M99.8,49.5 v5 M117.1,482 v-5 M117.1,49.5 v5 M134.4,482 v-5 M134.4,49.5 v5 M151.8,482 v-5 M151.8,49.5 v5 M169.1,482 v-9.6 M169.1,49.5 v9.6 M186.4,482 v-5 M186.4,49.5 v5 M203.7,482 v-5 M203.7,49.5 v5 M221,482 v-5 M221,49.5 v5 M238.3,482 v-5 M238.3,49.5 v5 M255.6,482 v-9.6 M255.6,49.5 v9.6 M272.9,482 v-5 M272.9,49.5 v5 M290.2,482 v-5 M290.2,49.5 v5 M307.6,482 v-5 M307.6,49.5 v5 M324.9,482 v-5 M324.9,49.5 v5 M342.2,482 v-9.6 M342.2,49.5 v9.6 M359.5,482 v-5 M359.5,49.5 v5 M376.8,482 v-5 M376.8,49.5 v5 M394.1,482 v-5 M394.1,49.5 v5 M411.4,482 v-5 M411.4,49.5 v5 M428.8,482 v-9.6 M428.8,49.5 v9.6 M446.1,482 v-5 M446.1,49.5 v5 M463.4,482 v-5 M463.4,49.5 v5 M480.7,482 v-5 M480.7,49.5 v5 M498,482 v-5 M498,49.5 v5 M515.3,482 v-9.6 M515.3,49.5 v9.6 M532.6,482 v-5 M532.6,49.5 v5 M549.9,482 v-5 M549.9,49.5 v5 M567.2,482 v-5 M567.2,49.5 v5 M584.6,482 v-5 M584.6,49.5 v5 M601.9,482 v-9.6 M601.9,49.5 v9.6 M619.2,482 v-5 M619.2,49.5 v5 M636.5,482 v-5 M636.5,49.5 v5 M653.8,482 v-5 M653.8,49.5 v5 M671.1,482 v-5 M671.1,49.5 v5 M688.4,482 v-9.6 M688.4,49.5 v9.6 M705.8,482 v-5 M705.8,49.5 v5 M723.1,482 v-5 M723.1,49.5 v5 M740.4,482 v-5 M740.4,49.5 v5 M757.7,482 v-5 M757.7,49.5 v5 M775,482 v-9.6 M775,49.5 v9.6 M82.5,477.7 h9.6 M775,477.7 h-9.6 M82.5,469.2 h5 M775,469.2 h-5 M82.5,460.6 h5 M775,460.6 h-5 M82.5,452 h5 M775,452 h-5 M82.5,443.5 h5 M775,443.5 h-5 M82.5,434.9 h9.6 M775,434.9 h-9.6 M82.5,426.3 h5 M775,426.3 h-5 M82.5,417.8 h5 M775,417.8 h-5 M82.5,409.2 h5 M775,409.2 h-5 M82.5,400.6 h5 M775,400.6 h-5 M82.5,392.1 h9.6 M775,392.1 h-9.6 M82.5,383.5 h5 M775,383.5 h-5 M82.5,374.9 h5 M775,374.9 h-5 M82.5,366.4 h5 M775,366.4 h-5 M82.5,357.8 h5 M775,357.8 h-5 M82.5,349.3 h9.6 M775,349.3 h-9.6 M82.5,340.7 h5 M775,340.7 h-5 M82.5,332.1 h5 M775,332.1 h-5 M82.5,323.6 h5 M775,323.6 h-5 M82.5,315 h5 M775,315 h-5 M82.5,306.4 h9.6 M775,306.4 h-9.6 M82.5,297.9 h5 M775,297.9 h-5 M82.5,289.3 h5 M775,289.3 h-5 M82.5,280.7 h5 M775,280.7 h-5 M82.5,272.2 h5 M775,272.2 h-5 M82.5,263.6 h9.6 M775,263.6 h-9.6 M82.5,255 h5 M775,255 h-5 M82.5,246.5 h5 M775,246.5 h-5 M82.5,237.9 h5 M775,237.9 h-5 M82.5,229.4 h5 M775,229.4 h-5 M82.5,220.8 h9.6 M775,220.8 h-9.6 M82.5,212.2 h5 M775,212.2 h-5 M82.5,203.7 h5 M775,203.7 h-5 M82.5,195.1 h5 M775,195.1 h-5 M82.5,186.5 h5 M775,186.5 h-5 M82.5,178 h9.6 M775,178 h-9.6 M82.5,169.4 h5 M775,169.4 h-5 M82.5,160.8 h5 M775,160.8 h-5 M82.5,152.3 h5 M775,152.3 h-5 M82.5,143.7 h5 M775,143.7 h-5 M82.5,135.1 h9.6 M775,135.1 h-9.6 M82.5,126.6 h5 M775,126.6 h-5 M82.5,118 h5 M775,118 h-5 M82.5,109.5 h5 M775,109.5 h-5 M82.5,100.9 h5 M775,100.9 h-5 M82.5,92.3 h9.6 M775,92.3 h-9.6 M82.5,83.8 h5 M775,83.8 h-5 M82.5,75.2 h5 M775,75.2 h-5 M82.5,66.6 h5 M775,66.6 h-5 M82.5,58.1 h5 M775,58.1 h-5 M82.5,49.5 h9.6 M775,49.5 h-9.6" stroke="#000" stroke-width="1" fill="none"/>
<rect x="82.5" y="49.5" width="692.5" height="432.5" fill="none" stroke="#000" stroke-width="1"/>
<g font-size="24.7" fill="#000" stroke="#000" stroke-width="0.5" stroke-linejoin="round"><text x="85.6" y="515.1" text-anchor="middle">0</text><text x="172.2" y="515.1" text-anchor="middle">100</text><text x="258.7" y="515.1" text-anchor="middle">200</text><text x="345.3" y="515.1" text-anchor="middle">300</text><text x="431.9" y="515.1" text-anchor="middle">400</text><text x="518.4" y="515.1" text-anchor="middle">500</text><text x="605" y="515.1" text-anchor="middle">600</text><text x="691.5" y="515.1" text-anchor="middle">700</text><text x="778.1" y="515.1" text-anchor="middle">800</text><text x="68.7" y="487" text-anchor="end">0</text><text x="68.7" y="444.2" text-anchor="end">10</text><text x="68.7" y="401.4" text-anchor="end">20</text><text x="68.7" y="358.6" text-anchor="end">30</text><text x="68.7" y="315.7" text-anchor="end">40</text><text x="68.7" y="272.9" text-anchor="end">50</text><text x="68.7" y="230.1" text-anchor="end">60</text><text x="68.7" y="187.3" text-anchor="end">70</text><text x="68.7" y="144.4" text-anchor="end">80</text><text x="68.7" y="101.6" text-anchor="end">90</text><text x="68.7" y="58.8" text-anchor="end">100</text></g>
<g font-size="21.45" fill="#000" stroke="#000" stroke-width="0.45" stroke-linejoin="round"><text x="335.8" y="81" text-anchor="end">QM Tree: m<tspan dy="5.2" font-size="17.3">π</tspan><tspan dy="-5.2"> = </tspan>140MeV</text><text x="335.8" y="107.8" text-anchor="end">170MeV</text><text x="335.8" y="134.7" text-anchor="end">QM: m<tspan dy="5.2" font-size="17.3">π</tspan><tspan dy="-5.2"> = </tspan>140MeV</text><text x="335.8" y="161.5" text-anchor="end">170MeV</text><text x="335.8" y="188.4" text-anchor="end">Brandt et al.</text><text x="335.8" y="215.2" text-anchor="end">Abbott et al. 48x96</text><text x="335.8" y="242.1" text-anchor="end">64x128</text></g>
<g font-size="24.7" fill="#000" stroke="#000" stroke-width="0.5" stroke-linejoin="round">
<text x="428.5" y="553.3" text-anchor="middle"><tspan font-style="italic">μ</tspan><tspan dy="5.7" font-size="19.6">I</tspan><tspan dy="-5.7"> [MeV]</tspan></text>
<text transform="translate(28.2,265.5) rotate(-90)" text-anchor="middle">n<tspan dy="5.7" font-size="19.6">I</tspan><tspan dy="-5.7"> / n</tspan><tspan dy="5.7" font-size="19.6">0</tspan></text>
</g>
</svg>
</body></html>
